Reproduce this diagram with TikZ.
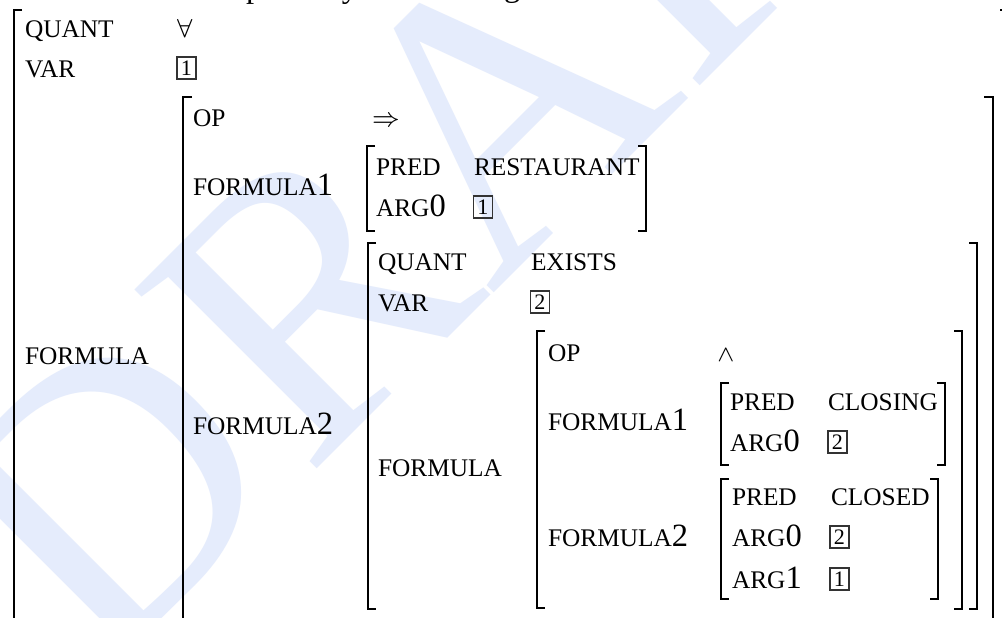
\documentclass[tikz,border=0pt]{standalone}
\usepackage{fontspec}
\setmainfont{Liberation Serif}
\definecolor{wmblue}{RGB}{229,236,252}
\newcommand\sca[1]{{\fontsize{7.8}{9}\selectfont #1}}
\tikzset{
  lbl/.style={anchor=base west, inner sep=0pt, outer sep=0pt, font=\fontsize{10}{12}\selectfont},
  sym/.style={anchor=base west, inner sep=0pt, outer sep=0pt},
  tagbox/.style={draw=black!80, line width=0.4pt, inner sep=0pt, outer sep=0pt, minimum width=5.85pt, minimum height=6.8pt, font=\fontsize{6.8}{7}\selectfont},
  brk/.style={line width=0.6pt, line join=miter},
  wm/.style={anchor=base west, inner sep=0pt, outer sep=0pt, rotate=45, text=wmblue, font=\fontsize{120}{120}\selectfont},
}
\begin{document}
\begin{tikzpicture}[x=0.30769pt, y=-0.30769pt]
\useasboundingbox (0,0) rectangle (1002,617);
\clip (0,0) rectangle (1002,617);
\fill[white] (0,0) rectangle (1002,617);
% watermark
\node[wm] (wD) at (100.0,680.0) {D};
\node[wm] (wR) at (307.1,478.9) {R};
\node[wm] (wA) at (491.0,295.0) {A};
\node[wm] (wF) at (690.1,95.9) {F};
\node[wm] (wT) at (843.4,-57.4) {T};
% fragments of the line above
\node[lbl] (fp) at (246,-3) {p};
\node[lbl] (fy) at (342,-3) {y};
\node[lbl] (fg) at (504,-4) {g};
% outer AVM
\draw[brk] (22,10) -- (14,10) -- (14,640);
\draw[brk] (1000,10) -- (1008,10) -- (1008,640);
\node[lbl] (quant) at (25,37) {\sca{QUANT}};
\node[sym] (forall) at (177,37) {\fontsize{8.5}{9}\selectfont$\forall$};
\node[lbl] (var) at (25,77) {\sca{VAR}};
\node[tagbox] (b1) at (186.5,68) {1};
\node[lbl] (formula) at (25,364) {\sca{FORMULA}};
% OP => AVM
\draw[brk] (192,97) -- (183,97) -- (183,640);
\draw[brk] (984,97) -- (993,97) -- (993,640);
\node[lbl] (op) at (193,126) {\sca{OP}};
\node[sym] (imp) at (372,126) {\fontsize{8}{9}\selectfont$\Rightarrow$};
\node[lbl] (f1) at (193,195) {\sca{FORMULA}1};
\node[lbl] (f2) at (193,434) {\sca{FORMULA}2};
% PRED RESTAURANT
\draw[brk] (375,146) -- (367,146) -- (367,231) -- (375,231);
\draw[brk] (638,146) -- (646,146) -- (646,231) -- (638,231);
\node[lbl] (pred1) at (376,175) {\sca{PRED}};
\node[lbl] (rest) at (474,175) {\sca{RESTAURANT}};
\node[lbl] (arg01) at (376,216) {\sca{ARG}0};
\node[tagbox] (b2) at (483,207) {1};
% EXISTS AVM
\draw[brk] (376,243) -- (368,243) -- (368,609) -- (376,609);
\draw[brk] (969,243) -- (977,243) -- (977,609) -- (969,609);
\node[lbl] (quant2) at (378,270) {\sca{QUANT}};
\node[lbl] (exists) at (531,270) {\sca{EXISTS}};
\node[lbl] (var2) at (378,311) {\sca{VAR}};
\node[tagbox] (b3) at (540,302) {2};
\node[lbl] (formula2) at (378,476) {\sca{FORMULA}};
% AND AVM
\draw[brk] (545,331) -- (537,331) -- (537,608) -- (545,608);
\draw[brk] (954,331) -- (962,331) -- (962,609) -- (954,609);
\node[lbl] (op2) at (548,361) {\sca{OP}};
\node[sym] (and) at (717,361) {\fontsize{7.5}{8}\selectfont$\wedge$};
\node[lbl] (f1b) at (548,430) {\sca{FORMULA}1};
\node[lbl] (f2b) at (548,546) {\sca{FORMULA}2};
% CLOSING
\draw[brk] (729,383) -- (721,383) -- (721,465) -- (729,465);
\draw[brk] (937,383) -- (945,383) -- (945,465) -- (937,465);
\node[lbl] (pred2) at (730,410) {\sca{PRED}};
\node[lbl] (closing) at (828,410) {\sca{CLOSING}};
\node[lbl] (arg02) at (730,451) {\sca{ARG}0};
\node[tagbox] (b4) at (837.5,442) {2};
% CLOSED
\draw[brk] (729,479) -- (721,479) -- (721,599) -- (729,599);
\draw[brk] (930,479) -- (938,479) -- (938,599) -- (930,599);
\node[lbl] (pred3) at (732,505) {\sca{PRED}};
\node[lbl] (closed) at (831,505) {\sca{CLOSED}};
\node[lbl] (arg03) at (732,546) {\sca{ARG}0};
\node[tagbox] (b5) at (839.5,537) {2};
\node[lbl] (arg1) at (732,588) {\sca{ARG}1};
\node[tagbox] (b6) at (839.5,579) {1};
\end{tikzpicture}
\end{document}
